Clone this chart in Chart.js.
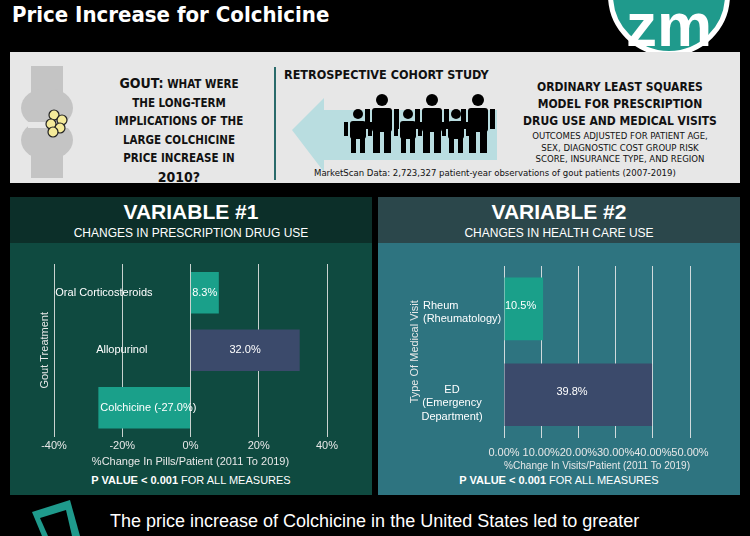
<!DOCTYPE html>
<html>
<head>
<meta charset="utf-8">
<script src="https://cdn.jsdelivr.net/npm/chart.js@4"></script>
<style>
  body { margin: 0; width: 750px; height: 536px; background: #000; overflow: hidden; font-family: "Liberation Sans", Arial, sans-serif; position: relative; }
  .abs { position: absolute; }
  .cond { font-family: "DejaVu Sans Condensed", "DejaVu Sans", sans-serif; font-stretch: condensed; }
  .title { left: 12px; top: 2px; color: #fff; font-weight: bold; font-size: 22px; }
  .logo { left: 608px; top: -66px; width: 112px; height: 112px; border-radius: 50%; background: #1f9a8c; border: 5px solid #fff; color: #fff; font: bold 62px "Liberation Sans", sans-serif; text-align: center; line-height: 172px; }
  .intro { left: 10px; top: 52px; width: 730px; height: 131px; background: #e7e7e7; }
  .q { left: 100px; top: 74px; width: 158px; text-align: center; font-weight: bold; font-size: 11.5px; line-height: 18.5px; color: #111; white-space: nowrap; }
  .q b { font-size: 14px; }
  .divider { left: 274px; top: 67px; width: 2px; height: 113px; background: #2a6b6b; }
  .study { left: 284px; top: 67px; font-weight: bold; font-size: 12.5px; color: #111; }
  .ols { left: 515px; top: 79px; width: 210px; text-align: center; font-weight: bold; font-size: 12px; line-height: 17px; color: #111; white-space: nowrap; }
  .ols span { display: block; font-weight: normal; font-size: 9.5px; line-height: 11.5px; }
  .ms { left: 314px; top: 167px; font-size: 9.5px; color: #111; white-space: nowrap; }
  .panel { top: 197px; width: 362px; height: 298px; }
  .head { height: 46px; text-align: center; color: #fff; }
  .head h1 { margin: 0; padding-top: 3px; font: bold 21px "Liberation Sans", Arial, sans-serif; }
  .head div { font: 12px "Liberation Sans", Arial, sans-serif; margin-top: 2px; }
  .pv { width: 362px; top: 277px; text-align: center; color: #fff; font: 11px "Liberation Sans", Arial, sans-serif; }
  .bottom { left: 110px; top: 511px; color: #fff; font: 18px "Liberation Sans", Arial, sans-serif; }
</style>
</head>
<body>
<div class="abs title cond">Price Increase for Colchicine</div>
<div class="abs logo">zm</div>

<div class="abs intro"></div>
<svg class="abs" style="left:10px;top:52px" width="730" height="131">
  <rect x="21" y="14" width="32" height="36" fill="#c4c4c4"/>
  <ellipse cx="37" cy="56" rx="26" ry="20" fill="#c4c4c4"/>
  <ellipse cx="37" cy="88" rx="26" ry="20" fill="#c4c4c4"/>
  <rect x="21" y="96" width="32" height="30" fill="#c4c4c4"/>
  <rect x="18" y="70" width="40" height="6" fill="#e7e7e7"/>
  <g fill="#f4ea9a" stroke="#222" stroke-width="1.2">
    <circle cx="44" cy="63" r="5"/><circle cx="52" cy="68" r="5"/><circle cx="41" cy="72" r="5"/>
    <circle cx="50" cy="76" r="5"/><circle cx="43" cy="80" r="5"/>
  </g>
  <polygon points="282,78 314,46 314,58 487,58 487,108 314,108 314,120" fill="#b9dde0"/>
  <g fill="#000">
    <circle cx="348" cy="62" r="5"/><rect x="340" y="69" width="16" height="18" rx="3"/><rect x="341" y="85" width="5" height="16"/><rect x="350" y="85" width="5" height="16"/><rect x="334" y="70" width="4" height="14"/><rect x="358" y="70" width="4" height="14"/>
    <circle cx="372" cy="48" r="6"/><rect x="362" y="56" width="20" height="24" rx="3"/><rect x="363" y="78" width="7" height="23"/><rect x="374" y="78" width="7" height="23"/><rect x="355" y="57" width="5" height="20"/><rect x="384" y="57" width="5" height="20"/>
    <circle cx="398" cy="62" r="5"/><rect x="390" y="69" width="16" height="18" rx="3"/><rect x="391" y="85" width="5" height="16"/><rect x="400" y="85" width="5" height="16"/><rect x="384" y="70" width="4" height="14"/><rect x="408" y="70" width="4" height="14"/>
    <circle cx="422" cy="48" r="6"/><rect x="412" y="56" width="20" height="24" rx="3"/><rect x="413" y="78" width="7" height="23"/><rect x="424" y="78" width="7" height="23"/><rect x="405" y="57" width="5" height="20"/><rect x="434" y="57" width="5" height="20"/>
    <circle cx="446" cy="62" r="5"/><rect x="438" y="69" width="16" height="18" rx="3"/><rect x="439" y="85" width="5" height="16"/><rect x="448" y="85" width="5" height="16"/><rect x="432" y="70" width="4" height="14"/><rect x="456" y="70" width="4" height="14"/>
    <circle cx="468" cy="48" r="6"/><rect x="458" y="56" width="20" height="24" rx="3"/><rect x="459" y="78" width="7" height="23"/><rect x="470" y="78" width="7" height="23"/><rect x="451" y="57" width="5" height="20"/><rect x="480" y="57" width="5" height="20"/>
  </g>
</svg>
<div class="abs q cond"><b>GOUT:</b> WHAT WERE<br>THE LONG-TERM<br>IMPLICATIONS OF THE<br>LARGE COLCHICINE<br>PRICE INCREASE IN<br><b>2010?</b></div>
<div class="abs divider"></div>
<div class="abs study cond">RETROSPECTIVE COHORT STUDY</div>
<div class="abs ols cond">ORDINARY LEAST SQUARES<br>MODEL FOR PRESCRIPTION<br>DRUG USE AND MEDICAL VISITS<span>OUTCOMES ADJUSTED FOR PATIENT AGE,<br>SEX, DIAGNOSTIC COST GROUP RISK<br>SCORE, INSURANCE TYPE, AND REGION</span></div>
<div class="abs ms cond">MarketScan Data: 2,723,327 patient-year observations of gout patients (2007-2019)</div>

<div class="abs panel" style="left:10px;background:#0f4a40">
  <div class="head" style="background:#0c2f29"><h1>VARIABLE #1</h1><div>CHANGES IN PRESCRIPTION DRUG USE</div></div>
  <div class="abs pv"><b>P VALUE &lt; 0.001</b> FOR ALL MEASURES</div>
</div>
<div class="abs panel" style="left:378px;background:#2e7480">
  <div class="head" style="background:#2b474b"><h1>VARIABLE #2</h1><div>CHANGES IN HEALTH CARE USE</div></div>
  <div class="abs pv"><b>P VALUE &lt; 0.001</b> FOR ALL MEASURES</div>
</div>

<div class="abs" style="left:20px;top:257px;width:340px;height:216px"><canvas id="c1"></canvas></div>
<div class="abs" style="left:388px;top:259px;width:345px;height:218px"><canvas id="c2"></canvas></div>

<svg class="abs" style="left:0;top:500px" width="100" height="36">
  <polygon points="32,12 70,0 80,36 42,36" fill="#1f9a8c"/>
  <polygon points="40,18 66,10 72,36 48,36" fill="#000"/>
</svg>
<div class="abs bottom">The price increase of Colchicine in the United States led to greater</div>

<script>
const drugLabels = ["Oral Corticosteroids", "Allopurinol", "Colchicine"];
const drugValues = [8.3, 32.0, -27.0];
const drugColors = ["#1aa08a", "#3b4a6b", "#1aa08a"];
const drugTicks = [-40, -20, 0, 20, 40];

const visitLabels = [["Rheum", "(Rheumatology)"], ["ED", "(Emergency", "Department)"]];
const visitValues = [10.5, 39.8];
const visitColors = ["#1aa08a", "#3b4a6b"];

Chart.defaults.font.family = "'Liberation Sans', Arial, sans-serif";
Chart.defaults.color = "#fff";

// value and category labels drawn where the original puts them
const barText = {
  id: "barText",
  afterDatasetsDraw(chart, args, opts) {
    const ctx = chart.ctx, x = chart.scales.x, y = chart.scales.y;
    ctx.save();
    ctx.fillStyle = "#fff";
    ctx.font = "11px 'Liberation Sans', Arial, sans-serif";
    ctx.textBaseline = "middle";
    chart.data.datasets[0].data.forEach((v, i) => {
      opts.draw(ctx, x, y.getPixelForValue(i), v, i);
    });
    ctx.restore();
  }
};

new Chart(document.getElementById("c1"), {
  type: "bar",
  data: { labels: drugLabels, datasets: [{ data: drugValues, backgroundColor: drugColors, barPercentage: 0.72, categoryPercentage: 1 }] },
  options: {
    indexAxis: "y", responsive: true, maintainAspectRatio: false, animation: false,
    layout: { padding: { right: 33, top: 7, left: 14 } },
    plugins: {
      legend: { display: false }, tooltip: { enabled: false },
      barText: {
        draw(ctx, x, cy, v, i) {
          if (v < 0) {
            ctx.textAlign = "left";
            ctx.fillText(drugLabels[i] + " (" + v.toFixed(1) + "%)", x.getPixelForValue(v) + 2, cy);
          } else {
            ctx.textAlign = "right";
            ctx.fillText(drugLabels[i], x.getPixelForValue(0) - (i ? 43 : 38), cy);
            ctx.textAlign = "center";
            ctx.fillText(v.toFixed(1) + "%", x.getPixelForValue(v / 2), cy);
          }
        }
      }
    },
    scales: {
      x: {
        min: -40, max: 40,
        afterBuildTicks(s) { s.ticks = drugTicks.map(v => ({ value: v })); },
        ticks: { callback: v => v + "%", font: { size: 11 }, color: "#e8e8e8" },
        grid: { color: "#c9d2cf", drawTicks: false },
        border: { display: false },
        title: { display: true, text: "%Change In Pills/Patient (2011 To 2019)", font: { size: 11 }, color: "#e8e8e8", padding: { top: 0 } }
      },
      y: {
        ticks: { display: false }, grid: { display: false }, border: { display: false },
        title: { display: true, text: "Gout Treatment", font: { size: 11 }, color: "#e8e8e8" },
        afterFit(s) { s.width = 20; }
      }
    }
  },
  plugins: [barText]
});

new Chart(document.getElementById("c2"), {
  type: "bar",
  data: { labels: visitLabels, datasets: [{ data: visitValues, backgroundColor: visitColors, barPercentage: 0.73, categoryPercentage: 1 }] },
  options: {
    indexAxis: "y", responsive: true, maintainAspectRatio: false, animation: false,
    layout: { padding: { right: 43, top: 7, left: 16 } },
    plugins: {
      legend: { display: false }, tooltip: { enabled: false },
      barText: {
        draw(ctx, x, cy, v, i) {
          const lines = visitLabels[i];
          ctx.textAlign = i ? "center" : "left";
          const lx = i ? x.getPixelForValue(0) - 52 : x.getPixelForValue(0) - 81;
          const ly = i ? cy - 5 : cy - 3;
          lines.forEach((t, k) => ctx.fillText(t, lx, ly + k * 13.5));
          ctx.fillText(v.toFixed(1) + "%", i ? x.getPixelForValue(v / 2) - 6 : x.getPixelForValue(0) + 1, cy - 3);
        }
      }
    },
    scales: {
      x: {
        min: 0, max: 50,
        ticks: { stepSize: 10, callback: v => v.toFixed(2) + "%", font: { size: 11 }, color: "#e8e8e8", maxRotation: 0, autoSkip: false, padding: 0 },
        grid: { color: "#d0dadc", drawTicks: true, tickLength: 9, tickColor: "rgba(0,0,0,0)" },
        border: { display: false },
        title: { display: true, text: "%Change In Visits/Patient (2011 To 2019)", font: { size: 11 }, color: "#e8e8e8", padding: { top: 0 } }
      },
      y: {
        ticks: { display: false }, grid: { display: false }, border: { display: false },
        title: { display: true, text: "Type Of Medical Visit", font: { size: 11 }, color: "#e8e8e8" },
        afterFit(s) { s.width = 100; }
      }
    }
  },
  plugins: [barText]
});
</script>
</body>
</html>
